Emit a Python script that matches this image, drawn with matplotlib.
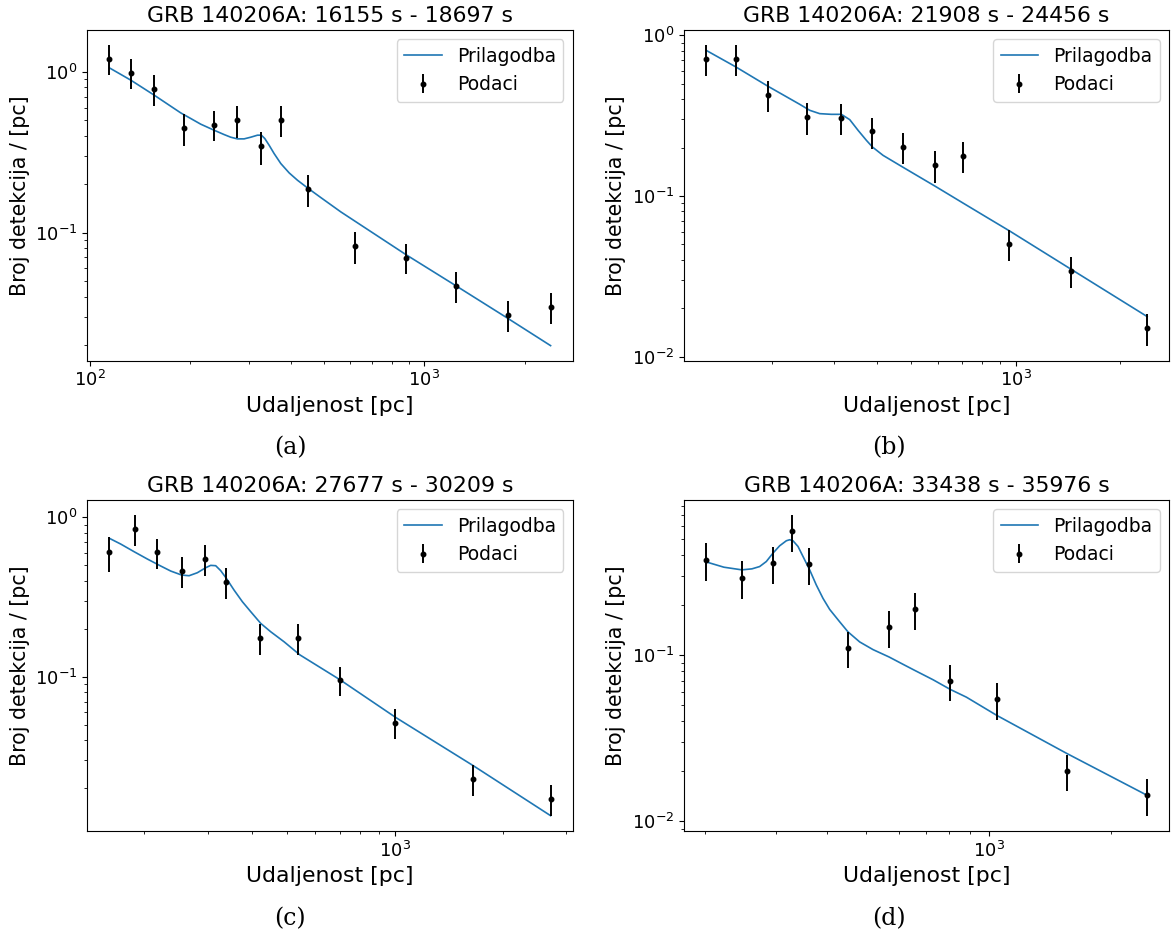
import matplotlib as mpl
mpl.use('Agg')
import numpy as np
import matplotlib.pyplot as plt

# measured points (distance [pc], count, error) for the four time slices
titles = ['GRB 140206A: 16155 s - 18697 s', 'GRB 140206A: 21908 s - 24456 s',
          'GRB 140206A: 27677 s - 30209 s', 'GRB 140206A: 33438 s - 35976 s']
captions = ['(a)', '(b)', '(c)', '(d)']

x_a = [114.4, 132.7, 155.8, 191.2, 235.3, 276.4, 326.2, 374.3, 448.7, 622, 885, 1246, 1783, 2389]
y_a = [1.21, 0.99, 0.78, 0.446, 0.47, 0.50, 0.345, 0.503, 0.187, 0.0822, 0.0699, 0.0466, 0.0309, 0.0346]
e_a = [0.26, 0.21, 0.17, 0.10, 0.10, 0.11, 0.08, 0.11, 0.042, 0.018, 0.015, 0.010, 0.0068, 0.0076]

x_b = [128.7, 156.9, 194.1, 250.8, 314.9, 386.5, 475.6, 587.6, 706.7, 958.8, 1446, 2390]
y_b = [0.715, 0.709, 0.427, 0.308, 0.307, 0.252, 0.203, 0.156, 0.178, 0.0501, 0.0342, 0.0150]
e_b = [0.155, 0.155, 0.094, 0.068, 0.068, 0.055, 0.045, 0.035, 0.040, 0.011, 0.0076, 0.0033]

x_c = [159.8, 187.9, 216.7, 254.7, 294.4, 338.1, 420.9, 537.4, 701.4, 1002, 1652, 2713]
y_c = [0.603, 0.849, 0.603, 0.460, 0.551, 0.393, 0.176, 0.175, 0.0958, 0.0517, 0.0230, 0.0172]
e_c = [0.15, 0.185, 0.13, 0.10, 0.12, 0.085, 0.038, 0.038, 0.020, 0.011, 0.005, 0.0037]

x_d = [201.3, 246.8, 293.7, 327.1, 361.4, 450.6, 568.8, 657.3, 803.6, 1048, 1557, 2457]
y_d = [0.378, 0.294, 0.359, 0.562, 0.354, 0.111, 0.148, 0.190, 0.0702, 0.0544, 0.0201, 0.01438]
e_d = [0.097, 0.075, 0.09, 0.14, 0.09, 0.027, 0.037, 0.047, 0.0175, 0.0135, 0.005, 0.0036]

# fitted curves
fx_a = [114.4, 132.7, 155.8, 187.0, 200.4, 214.7, 235.3, 252.0, 263.9, 276.3, 289.3, 302.9,
        317.2, 326.0, 333.7, 343.8, 355.8, 372.6, 394.7, 417.9, 447.7, 490.9, 563.3, 885.1,
        1246.5, 1782.5, 2389]
fy_a = [1.059, 0.887, 0.716, 0.5556, 0.5124, 0.4724, 0.4334, 0.4074, 0.3921, 0.3828, 0.3828,
        0.3921, 0.4035, 0.4035, 0.3846, 0.3496, 0.3102, 0.2688, 0.2351, 0.2117, 0.1897, 0.1651,
        0.1345, 0.0726, 0.0466, 0.0292, 0.0198]

fx_b = [128.8, 156.9, 194.2, 239.5, 255.9, 273.4, 295.3, 315.6, 333.6, 352.5, 372.5, 387.7,
        415.9, 477.0, 588.4, 706.7, 824.6, 962.7, 1446, 2390]
fy_b = [0.806, 0.635, 0.481, 0.3716, 0.3410, 0.3251, 0.3219, 0.3219, 0.2982, 0.2559, 0.2217,
        0.2015, 0.1788, 0.1498, 0.1146, 0.0902, 0.0738, 0.0604, 0.0349, 0.01775]

fx_c = [159.9, 171.8, 187.2, 203.9, 222.2, 236.9, 254.2, 266.5, 281.1, 296.6, 306.2, 316.2,
        326.6, 338.6, 355.7, 375.3, 396.0, 422.2, 450.2, 490.5, 542.4, 701.4, 1002, 1653, 2713]
fy_c = [0.738, 0.680, 0.609, 0.5476, 0.495, 0.4604, 0.4345, 0.4303, 0.4494, 0.4831, 0.4997,
        0.4973, 0.4626, 0.4142, 0.3499, 0.2956, 0.2559, 0.2162, 0.1916, 0.1658, 0.1374, 0.0960,
        0.0558, 0.0277, 0.01348]

fx_d = [201.3, 222.9, 246.8, 261.3, 273.0, 283.5, 294.4, 305.8, 317.6, 323.6, 329.8, 339.3,
        349.1, 362.5, 376.4, 391.0, 406.1, 429.8, 450.6, 481.4, 519.3, 568.6, 615.7, 657.7,
        729.8, 805.2, 881.7, 1049.3, 1557, 2457]
fy_d = [0.3662, 0.3399, 0.3276, 0.3322, 0.3430, 0.3678, 0.4132, 0.4576, 0.4908, 0.4977, 0.4908,
        0.4535, 0.3945, 0.3276, 0.2656, 0.2205, 0.1891, 0.1592, 0.1384, 0.1204, 0.1082, 0.0977,
        0.0882, 0.0811, 0.0712, 0.0622, 0.0559, 0.0433, 0.0256, 0.0143]

panels = [(x_a, y_a, e_a, fx_a, fy_a), (x_b, y_b, e_b, fx_b, fy_b),
          (x_c, y_c, e_c, fx_c, fy_c), (x_d, y_d, e_d, fx_d, fy_d)]

# axes rectangles in figure fractions (left, bottom, width, height)
boxes = [[0.0745, 0.6155, 0.4141, 0.3526], [0.5835, 0.6155, 0.4141, 0.3526],
         [0.0745, 0.1144, 0.4141, 0.3526], [0.5835, 0.1144, 0.4141, 0.3526]]
cap_pos = [(290, 448), (889, 448), (290, 919), (889, 919)]

fig = plt.figure(figsize=(11.72, 9.38), dpi=100)
for i in range(4):
    x, y, e, fx, fy = panels[i]
    ax = fig.add_axes(boxes[i])
    ax.plot(fx, fy, color='C0', lw=1.2, label='Prilagodba')
    ax.errorbar(x, y, yerr=e, fmt='k.', ms=6.5, elinewidth=1.4, label='Podaci')
    ax.set_xscale('log')
    ax.set_yscale('log')
    ax.set_title(titles[i], fontsize=15.8)
    ax.set_xlabel('Udaljenost [pc]', fontsize=15.8)
    ax.set_ylabel('Broj detekcija / [pc]', fontsize=14.8)
    ax.tick_params(labelsize=13)
    ax.legend(loc='upper right', fontsize=13.5)
    fig.text(cap_pos[i][0] / 1172, 1 - cap_pos[i][1] / 938, captions[i],
             ha='center', va='center', family='DejaVu Serif', fontsize=17)

fig.savefig('out.png', dpi=100)
